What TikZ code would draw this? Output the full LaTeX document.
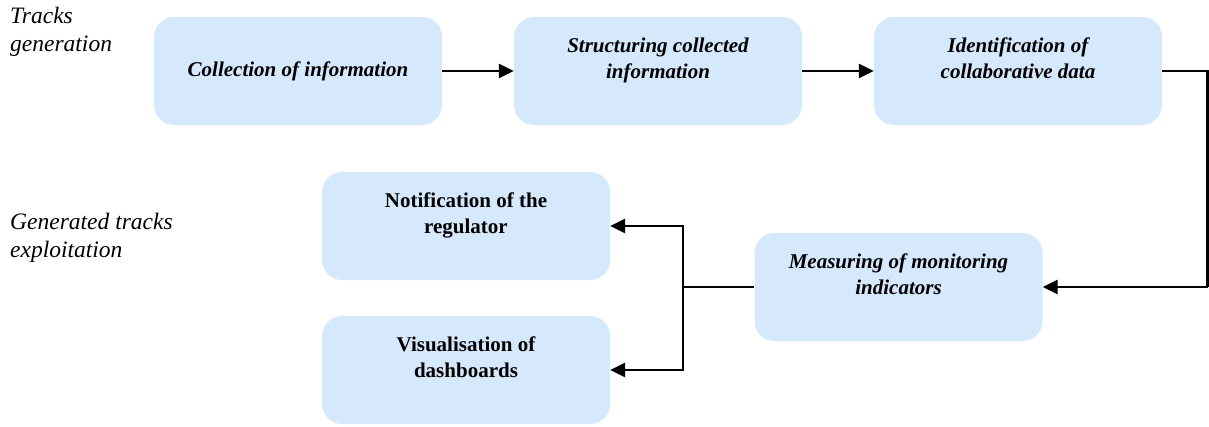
\documentclass[tikz,border=0pt]{standalone}
\usepackage{fontspec}
\setmainfont{Liberation Serif}
\usetikzlibrary{arrows.meta}
\definecolor{boxblue}{RGB}{213,232,252}
\begin{document}
\begin{tikzpicture}[x=1pt,y=-1pt,
  procbox/.style={fill=boxblue, rounded corners=20pt, minimum width=288pt, minimum height=108pt, align=center, inner sep=0pt},
  itbox/.style={procbox, font=\fontsize{21}{26}\selectfont\bfseries\itshape},
  bfbox/.style={procbox, font=\fontsize{21}{26}\selectfont\bfseries},
  sidelabel/.style={anchor=base west, align=left, inner sep=0pt, font=\fontsize{23.5}{28}\selectfont\itshape},
  conn/.style={line width=2.7pt},
  arr/.style={conn, -{Triangle[length=15pt,width=14pt]}}
]
\useasboundingbox (0,0) rectangle (1209,426);
\node[sidelabel] (l1) at (10,51) {Tracks\\generation};
\node[sidelabel] (l2) at (10,257) {Generated tracks\\exploitation};
\node[itbox] (b1) at (298,71) {\raisebox{-2pt}{Collection of information}};
\node[itbox] (b2) at (658,71) {Structuring collected\\information\\[-8pt]\strut};
\node[itbox] (b3) at (1018,71) {Identification of\\collaborative data\\[-8pt]\strut};
\node[itbox] (m) at (898.5,287) {Measuring of monitoring\\indicators\\[-8pt]\strut};
\node[bfbox] (n) at (466,226) {Notification of the\\regulator\\[-8pt]\strut};
\node[bfbox] (v) at (466,370) {Visualisation of\\dashboards\\[-8pt]\strut};
\coordinate (r) at (1207.5,71);
\coordinate (j) at (683,287);
\draw[arr] (b1) -- (b2);
\draw[arr] (b2) -- (b3);
\draw[conn] (b3.east) -- (r) -- (r |- m.east);
\draw[arr] (r |- m.east) -- (m.east);
\draw[conn] (m.west) -- (j);
\draw[arr] (j) |- (n.east);
\draw[arr] (j) |- (v.east);
\end{tikzpicture}
\end{document}
